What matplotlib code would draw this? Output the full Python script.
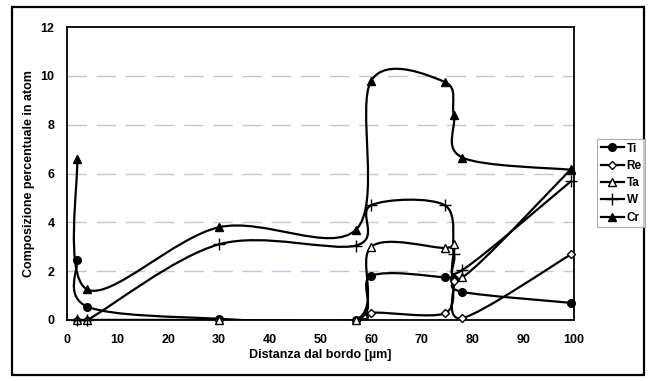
import matplotlib.pyplot as plt
from matplotlib.path import Path
from matplotlib.patches import PathPatch, Rectangle
from matplotlib.lines import Line2D
import numpy as np

plt.rcParams['font.family'] = ['Liberation Sans', 'DejaVu Sans']
plt.rcParams['font.weight'] = 'bold'

# distance from edge (um) for each measuring point
dist = [2, 4, 30, 57, 60, 74.5, 76.3, 78, 99.5]

ti = [2.45, 0.55, 0.05, 0.0, 1.8, 1.75, 1.68, 1.15, 0.7]
re = [0.0, 0.0, 0.0, 0.0, 0.3, 0.27, 1.6, 0.08, 2.7]
ta = [0.0, 0.0, 0.0, 0.0, 3.0, 2.95, 3.1, 1.75, 6.2]
w = [0.0, 0.0, 3.1, 3.05, 4.7, 4.7, 2.7, 2.05, 5.7]
cr = [6.6, 1.25, 3.8, 3.7, 9.8, 9.75, 8.4, 6.65, 6.15]

series = [
    ('Ti', ti, dict(marker='o', mfc='black', ms=5.5)),
    ('Re', re, dict(marker='D', mfc='white', ms=4)),
    ('Ta', ta, dict(marker='^', mfc='white', ms=6)),
    ('W', w, dict(marker='+', mfc='black', ms=8)),
    ('Cr', cr, dict(marker='^', mfc='black', ms=6)),
]


def smooth_path(x, y):
    # spreadsheet-style smoothing: cubic Bezier with 1/6 neighbour tangents
    p = np.column_stack([x, y]).astype(float)
    n = len(p)
    verts = [p[0]]
    codes = [Path.MOVETO]
    for i in range(n - 1):
        p0 = p[i - 1] if i > 0 else p[i]
        p3 = p[i + 2] if i + 2 < n else p[i + 1]
        c1 = p[i] + (p[i + 1] - p0) / 6
        c2 = p[i + 1] - (p3 - p[i]) / 6
        verts += [c1, c2, p[i + 1]]
        codes += [Path.CURVE4] * 3
    return Path(verts, codes)


fig = plt.figure(figsize=(6.48, 3.81), dpi=100)
ax = fig.add_axes([67 / 648, 1 - 320 / 381, (574 - 67) / 648, (320 - 27) / 381])

# outer chart border
fig.patches.append(Rectangle((12 / 648, 6 / 381), 632 / 648, 368 / 381,
                             transform=fig.transFigure, fill=False,
                             edgecolor='black', lw=1.6))

for yv in [2, 4, 6, 8, 10]:
    ax.axhline(yv, color='#8f88b0', lw=1.0, ls=(0, (14, 7)), alpha=0.5, zorder=1)

handles = []
for name, vals, st in series:
    ax.add_patch(PathPatch(smooth_path(dist, vals), fill=False,
                           edgecolor='black', lw=1.6, zorder=3))
    ax.plot(dist, vals, ls='none', color='black', mec='black', mew=1.0,
            zorder=4, clip_on=False, **st)
    handles.append(Line2D([], [], color='black', lw=1.6, mec='black',
                          mew=1.0, label=name, **st))

ax.set_xlim(0, 100)
ax.set_ylim(0, 12)
ax.set_xticks(range(0, 101, 10))
ax.set_yticks(range(0, 13, 2))
ax.tick_params(length=0, labelsize=9)
ax.tick_params(axis='x', pad=10)
ax.tick_params(axis='y', pad=9)
for s in ax.spines.values():
    s.set_linewidth(1.3)

ax.set_xlabel('Distanza dal bordo [µm]', fontsize=9, fontweight='bold', labelpad=2)
ax.set_ylabel('Composizione percentuale in atom', fontsize=9, fontweight='bold', labelpad=4)

leg = fig.legend(handles=handles, loc='upper left', bbox_to_anchor=(597 / 648, 1 - 139 / 381),
                 fontsize=8.5, frameon=True, fancybox=False, handlelength=2.0,
                 handletextpad=0.2, borderpad=0.3, labelspacing=0.45,
                 borderaxespad=0)
leg.get_frame().set_edgecolor('#999999')
leg.get_frame().set_linewidth(0.8)

fig.savefig('out.png', dpi=100)
